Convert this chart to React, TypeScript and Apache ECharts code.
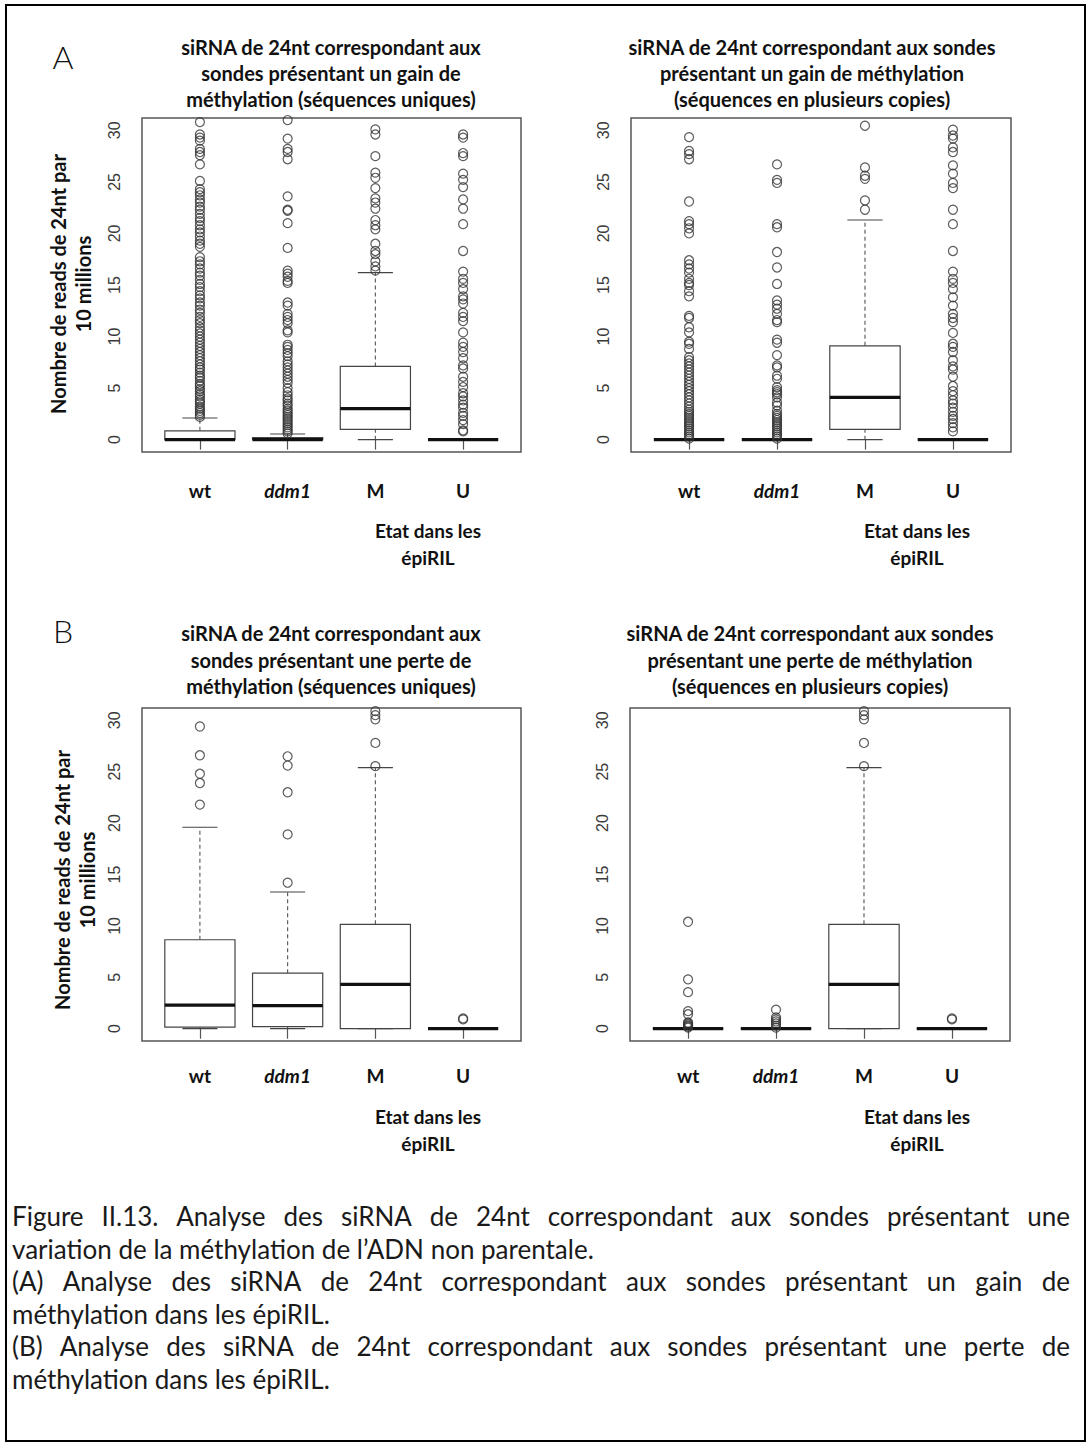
import React, { useEffect, useRef } from 'react';
import * as echarts from 'echarts';

// ---------------- data ----------------
const categories = ['wt', 'ddm1', 'M', 'U'];
const yTickValues = [0, 5, 10, 15, 20, 25, 30];
const xTickValues = [1, 2, 3, 4];

// box statistics: [lower whisker, Q1, median, Q3, upper whisker] for wt, ddm1, M, U
const gainUniqueStats = [
  [0, 0, 0, 0.85, 2.1],
  [0, 0, 0, 0.2, 0.55],
  [0, 1.0, 3.0, 7.1, 16.2],
  [0, 0, 0, 0, 0],
];
const gainMultiStats = [
  [0, 0, 0, 0, 0],
  [0, 0, 0, 0, 0],
  [0, 1.0, 4.1, 9.1, 21.3],
  [0, 0, 0, 0, 0],
];
const lossUniqueStats = [
  [0, 0.15, 2.3, 8.65, 19.6],
  [0, 0.2, 2.25, 5.4, 13.3],
  [0, 0, 4.3, 10.15, 25.4],
  [0, 0, 0, 0, 0],
];
const lossMultiStats = [
  [0, 0, 0, 0, 0],
  [0, 0, 0, 0, 0],
  [0, 0, 4.3, 10.15, 25.4],
  [0, 0, 0, 0, 0],
];

// outliers
const gainUniqueWt = [2.2, 2.4, 2.6, 2.8, 3.0, 3.2, 3.5, 3.7, 3.9, 4.2, 4.4, 4.7, 4.9, 5.2, 5.4, 5.7, 6.0, 6.2, 6.5, 6.8, 7.0, 7.3, 7.6, 7.9, 8.2, 8.5, 8.8, 9.1, 9.4, 9.7, 10.0, 10.3, 10.6, 10.9, 11.3, 11.6, 11.9, 12.3, 12.6, 13.0, 13.3, 13.7, 14.0, 14.4, 14.8, 15.1, 15.5, 15.9, 16.2, 16.6, 17.0, 17.3, 17.7, 18.7, 19.0, 19.3, 19.7, 20.1, 20.4, 20.8, 21.2, 21.5, 21.9, 22.3, 22.6, 23.0, 23.3, 23.7, 24.0, 24.3, 25.1, 26.7, 27.6, 27.9, 28.2, 29.0, 29.3, 29.6, 30.8];
const gainUniqueDdm1 = [0.6, 0.8, 1.0, 1.2, 1.4, 1.6, 1.8, 2.0, 2.2, 2.4, 2.6, 2.8, 3.0, 3.3, 3.5, 3.8, 4.0, 4.3, 4.6, 5.0, 5.5, 5.8, 6.1, 6.4, 6.7, 7.0, 7.3, 7.6, 8.1, 8.4, 8.7, 9.0, 9.2, 10.4, 10.6, 11.3, 11.6, 11.9, 12.2, 13.0, 13.3, 15.2, 15.4, 15.8, 16.1, 16.4, 18.6, 21.0, 22.2, 22.3, 23.6, 27.2, 27.9, 28.2, 29.2, 31.0];
const gainUniqueM = [16.4, 16.8, 17.3, 18.0, 18.3, 19.0, 20.4, 20.8, 21.3, 22.4, 23.0, 23.4, 24.4, 25.4, 25.9, 27.5, 29.6, 30.1];
const gainUniqueU = [0.8, 0.9, 1.5, 1.9, 2.3, 2.6, 3.1, 3.4, 3.8, 4.2, 4.5, 5.1, 5.6, 6.1, 6.9, 7.2, 7.9, 8.5, 9.0, 9.4, 10.4, 11.5, 11.9, 12.3, 13.2, 13.6, 13.9, 14.6, 15.2, 15.6, 16.3, 18.3, 20.9, 22.4, 23.3, 24.5, 25.2, 25.8, 27.5, 27.8, 29.3, 29.6];

const gainMultiWt = [0.1, 0.3, 0.5, 0.7, 0.9, 1.1, 1.3, 1.5, 1.7, 1.9, 2.1, 2.3, 2.5, 2.7, 2.9, 3.2, 3.5, 3.8, 4.1, 4.4, 4.7, 5.0, 5.3, 5.6, 5.9, 6.2, 6.5, 6.8, 7.1, 7.4, 7.7, 8.0, 8.8, 9.3, 9.5, 10.4, 10.9, 11.8, 12.0, 13.9, 14.4, 15.0, 15.2, 15.6, 16.2, 16.6, 17.0, 17.4, 20.0, 20.5, 20.9, 21.2, 23.1, 27.2, 27.7, 28.0, 29.35];
const gainMultiDdm1 = [0.1, 0.3, 0.5, 0.7, 0.9, 1.1, 1.3, 1.5, 1.7, 1.9, 2.1, 2.3, 2.5, 2.8, 3.3, 3.6, 4.1, 4.4, 4.6, 4.8, 5.1, 5.9, 6.2, 7.0, 7.2, 8.2, 9.4, 9.7, 11.4, 11.6, 12.2, 12.7, 13.1, 13.5, 15.1, 16.7, 18.2, 20.6, 20.9, 24.9, 25.2, 26.7];
const gainMultiM = [22.3, 23.2, 25.3, 25.6, 26.4, 30.45];
const gainMultiU = [0.8, 1.2, 1.6, 2.0, 2.3, 2.7, 3.1, 3.5, 3.8, 4.3, 4.7, 5.2, 6.1, 6.8, 7.1, 7.7, 8.5, 9.0, 9.3, 10.35, 11.4, 11.8, 12.2, 13.0, 13.8, 14.6, 15.2, 15.6, 16.3, 18.3, 20.9, 22.3, 24.4, 24.9, 25.8, 26.6, 27.9, 28.35, 29.2, 29.5, 30.06];

const lossUniqueWt = [21.8, 23.9, 24.8, 26.6, 29.4];
const lossUniqueDdm1 = [14.2, 18.9, 23.0, 25.6, 26.5];
const lossUniqueM = [25.55, 27.8, 30.1, 30.5, 30.9];
const lossUniqueU = [0.9, 1.0];

const lossMultiWt = [0.1, 0.2, 0.3, 0.4, 0.5, 0.6, 1.4, 1.7, 3.55, 4.8, 10.4];
const lossMultiDdm1 = [0.1, 0.3, 0.5, 0.7, 0.9, 1.1, 1.85];
const lossMultiM = [25.55, 27.8, 30.1, 30.5, 30.9];
const lossMultiU = [0.9, 1.0];

const titles = [
  ['siRNA de 24nt correspondant aux', 'sondes présentant un gain de', 'méthylation (séquences uniques)'],
  ['siRNA de 24nt correspondant aux sondes', 'présentant un gain de méthylation', '(séquences en plusieurs copies)'],
  ['siRNA de 24nt correspondant aux', 'sondes présentant une perte de', 'méthylation (séquences uniques)'],
  ['siRNA de 24nt correspondant aux sondes', 'présentant une perte de méthylation', '(séquences en plusieurs copies)'],
];
const yNameLines = ['Nombre de reads de 24nt par', '10 millions'];
const xNameLines = ['Etat dans les', 'épiRIL'];
const captionLines = [
  { text: 'Figure II.13. Analyse des siRNA de 24nt correspondant aux sondes présentant une', justify: true },
  { text: 'variation de la méthylation de l’ADN non parentale.', justify: false },
  { text: '(A) Analyse des siRNA de 24nt correspondant aux sondes présentant un gain de', justify: true },
  { text: 'méthylation dans les épiRIL.', justify: false },
  { text: '(B) Analyse des siRNA de 24nt correspondant aux sondes présentant une perte de', justify: true },
  { text: 'méthylation dans les épiRIL.', justify: false },
];

const panels = [
  { stats: gainUniqueStats, outliers: [gainUniqueWt, gainUniqueDdm1, gainUniqueM, gainUniqueU] },
  { stats: gainMultiStats, outliers: [gainMultiWt, gainMultiDdm1, gainMultiM, gainMultiU] },
  { stats: lossUniqueStats, outliers: [lossUniqueWt, lossUniqueDdm1, lossUniqueM, lossUniqueU] },
  { stats: lossMultiStats, outliers: [lossMultiWt, lossMultiDdm1, lossMultiM, lossMultiU] },
];

// ---------------- layout ----------------
const layout = [
  { left: 142, top: 118, width: 379, height: 334, labelMargin: 29, titleX: 331, titleY: [46.5, 72.5, 98.5], yNameX: [58, 83], yNameY: 284, xNameX: 428, xNameY: [530, 557] },
  { left: 631, top: 118, width: 380, height: 334, labelMargin: 29, titleX: 812, titleY: [46.5, 72.5, 98.5], yNameX: null, yNameY: 0, xNameX: 917, xNameY: [530, 557] },
  { left: 142, top: 708, width: 379, height: 333, labelMargin: 25, titleX: 331, titleY: [633, 659.5, 686], yNameX: [62, 87], yNameY: 880, xNameX: 428, xNameY: [1116, 1143] },
  { left: 630, top: 708, width: 380, height: 333, labelMargin: 25, titleX: 810, titleY: [633, 659.5, 686], yNameX: null, yNameY: 0, xNameX: 917, xNameY: [1116, 1143] },
];

const FONT = 'Lato, "Open Sans", sans-serif';

function renderBox(params: any, api: any) {
  const x = api.value(0);
  const lo = api.value(1), q1 = api.value(2), med = api.value(3), q3 = api.value(4), hi = api.value(5);
  const cx = api.coord([x, med])[0];
  const yLo = api.coord([x, lo])[1];
  const yQ1 = api.coord([x, q1])[1];
  const yMed = api.coord([x, med])[1];
  const yQ3 = api.coord([x, q3])[1];
  const yHi = api.coord([x, hi])[1];
  const half = api.size([0.8, 0])[0] / 2;
  const st = half / 2;
  const dash = { stroke: '#555', lineWidth: 1.1, lineDash: [4, 3] };
  const solid = { stroke: '#444', lineWidth: 1.1 };
  return {
    type: 'group',
    children: [
      { type: 'line', shape: { x1: cx, y1: yQ3, x2: cx, y2: yHi }, style: dash },
      { type: 'line', shape: { x1: cx, y1: yLo, x2: cx, y2: yQ1 }, style: dash },
      { type: 'line', shape: { x1: cx - st, y1: yHi, x2: cx + st, y2: yHi }, style: solid },
      { type: 'line', shape: { x1: cx - st, y1: yLo, x2: cx + st, y2: yLo }, style: solid },
      { type: 'rect', shape: { x: cx - half, y: yQ3, width: half * 2, height: Math.max(yQ1 - yQ3, 0) }, style: { fill: '#fff', stroke: '#444', lineWidth: 1.2 } },
      { type: 'line', shape: { x1: cx - half, y1: yMed, x2: cx + half, y2: yMed }, style: { stroke: '#111', lineWidth: 3.2 } },
    ],
  };
}

function buildOption() {
  const grid: any[] = [];
  const xAxis: any[] = [];
  const yAxis: any[] = [];
  const series: any[] = [];
  const elements: any[] = [];

  const labelStyle = { fontFamily: FONT, fontWeight: 'bold', fontSize: 19, color: '#111' };

  panels.forEach((p, g) => {
    const L = layout[g];
    grid.push({ left: L.left, top: L.top, width: L.width, height: L.height, show: true, borderColor: '#555', borderWidth: 1.5, backgroundColor: 'transparent' });
    xAxis.push({
      type: 'value', gridIndex: g, min: 0.34, max: 4.66,
      axisLine: { show: false },
      splitLine: { show: false },
      axisTick: { show: true, customValues: xTickValues, length: 10, lineStyle: { color: '#555', width: 1.2 } },
      axisLabel: {
        customValues: xTickValues,
        margin: L.labelMargin,
        formatter: (v: number) => {
          const name = categories[Math.round(v) - 1];
          return name === 'ddm1' ? `{i|${name}}` : `{n|${name}}`;
        },
        rich: { n: { ...labelStyle }, i: { ...labelStyle, fontStyle: 'italic' } },
      },
    });
    yAxis.push({
      type: 'value', gridIndex: g, min: -1.2, max: 31.2,
      axisLine: { show: false },
      axisTick: { show: false },
      splitLine: { show: false },
      axisLabel: { customValues: yTickValues, rotate: 90, margin: 20, fontFamily: '"Liberation Sans", Arial, sans-serif', fontSize: 16, color: '#3a3a3a' },
    });
    series.push({
      type: 'custom', xAxisIndex: g, yAxisIndex: g, z: 2, silent: true,
      renderItem: renderBox,
      encode: { x: 0, y: [1, 2, 3, 4, 5] },
      data: p.stats.map((s, i) => [i + 1, ...s]),
    });
    const pts: number[][] = [];
    p.outliers.forEach((vals, i) => vals.forEach((v) => pts.push([i + 1, v])));
    series.push({
      type: 'scatter', xAxisIndex: g, yAxisIndex: g, z: 3, silent: true, clip: true,
      symbol: 'circle', symbolSize: 9,
      itemStyle: { color: 'rgba(0,0,0,0)', borderColor: '#333', borderWidth: 1.2 },
      data: pts,
    });

    // titles
    titles[g].forEach((line, k) => {
      elements.push({ type: 'text', x: L.titleX, y: L.titleY[k], silent: true,
        style: { text: line, fontFamily: FONT, fontWeight: 'bold', fontSize: 20, fill: '#111', align: 'center', verticalAlign: 'middle' } });
    });
    // y name
    if (L.yNameX) {
      yNameLines.forEach((line, k) => {
        elements.push({ type: 'text', x: L.yNameX![k], y: L.yNameY, rotation: Math.PI / 2, silent: true,
          style: { text: line, fontFamily: FONT, fontWeight: 'bold', fontSize: 20, fill: '#111', align: 'center', verticalAlign: 'middle' } });
      });
    }
    // x name
    xNameLines.forEach((line, k) => {
      elements.push({ type: 'text', x: L.xNameX, y: L.xNameY[k], silent: true,
        style: { text: line, fontFamily: FONT, fontWeight: 'bold', fontSize: 19, fill: '#111', align: 'center', verticalAlign: 'middle' } });
    });
  });

  // panel letters
  elements.push({ type: 'text', x: 63, y: 56, silent: true, style: { text: 'A', fontFamily: FONT, fontWeight: 300, fontSize: 32, fill: '#111', align: 'center', verticalAlign: 'middle' } });
  elements.push({ type: 'text', x: 63, y: 630, silent: true, style: { text: 'B', fontFamily: FONT, fontWeight: 300, fontSize: 32, fill: '#111', align: 'center', verticalAlign: 'middle' } });

  // outer frame
  elements.push({ type: 'rect', silent: true, shape: { x: 6, y: 5, width: 1079, height: 1436 }, style: { fill: 'none', stroke: '#000', lineWidth: 2 } });

  // caption (justified)
  const capSize = 26;
  const capFont = `${capSize}px Lato`;
  const ctx = document.createElement('canvas').getContext('2d')!;
  ctx.font = capFont;
  const capLeft = 12, capRight = 1070;
  const capY = [1216, 1248.5, 1281, 1313.5, 1346, 1378.5];
  captionLines.forEach((c, k) => {
    const base = { fontFamily: 'Lato', fontSize: capSize, fill: '#1a1a1a', align: 'left', verticalAlign: 'middle' };
    if (!c.justify) {
      elements.push({ type: 'text', x: capLeft, y: capY[k], silent: true, style: { ...base, text: c.text } });
      return;
    }
    const words = c.text.split(' ');
    const widths = words.map((w) => ctx.measureText(w).width);
    const total = widths.reduce((a, b) => a + b, 0);
    const gap = (capRight - capLeft - total) / (words.length - 1);
    let x = capLeft;
    words.forEach((w, i) => {
      elements.push({ type: 'text', x, y: capY[k], silent: true, style: { ...base, text: w } });
      x += widths[i] + gap;
    });
  });

  return {
    animation: false,
    backgroundColor: '#fff',
    grid, xAxis, yAxis, series,
    graphic: { elements },
  };
}

export default function App() {
  const ref = useRef<HTMLDivElement>(null);
  useEffect(() => {
    if (!ref.current) return;
    const chart = echarts.init(ref.current, undefined, { renderer: 'svg', width: 1089, height: 1449 });
    chart.setOption(buildOption() as any);
    return () => chart.dispose();
  }, []);
  return (
    <div ref={ref} style={{ position: 'absolute', left: 0, top: 0, width: 1089, height: 1449, background: '#fff' }} />
  );
}
